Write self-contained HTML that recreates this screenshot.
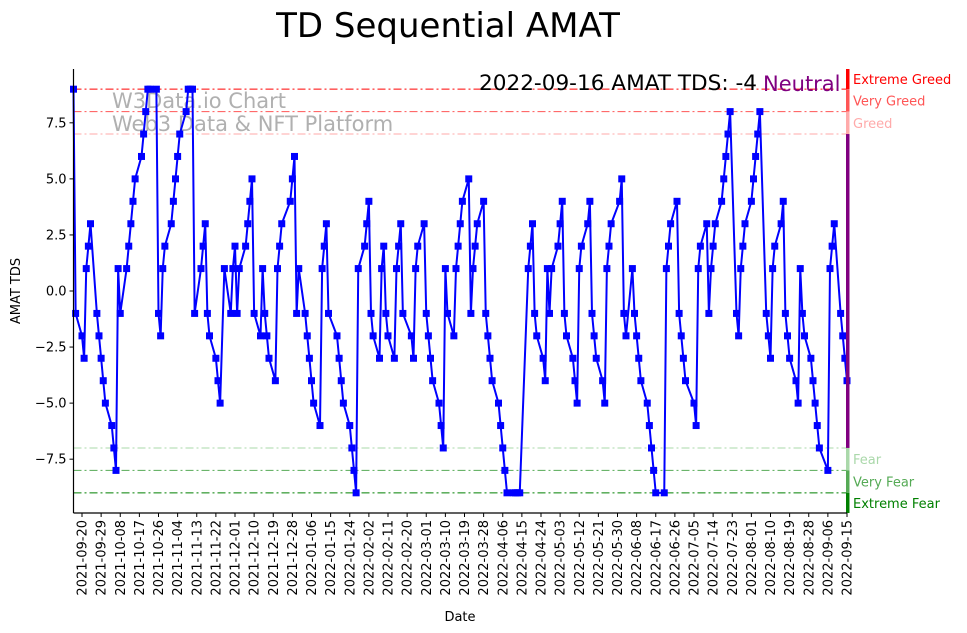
<!DOCTYPE html>
<html><head><meta charset="utf-8"><style>
body{margin:0;background:#fff;}
svg{display:block;font-family:"DejaVu Sans","Liberation Sans",sans-serif;}
</style></head><body>
<svg id="chart" width="967" height="633" viewBox="0 0 967 633" xmlns="http://www.w3.org/2000/svg">
<text x="448" y="37" font-size="34" text-anchor="middle" fill="#000">TD Sequential AMAT</text>
<g id="watermark" fill="#b0b0b0" font-size="21">
<text x="112" y="108">W3Data.io Chart</text>
<text x="112" y="131">Web3 Data &amp; NFT Platform</text>
</g>
<g id="grid"></g>
<g id="series"></g>
<g id="axes"></g>
<text x="757" y="90" font-size="21.5" text-anchor="end" fill="#000" textLength="278" lengthAdjust="spacingAndGlyphs">2022-09-16 AMAT TDS: -4</text>
<text x="763" y="91" font-size="21" fill="#800080">Neutral</text>
<text transform="translate(20,291) rotate(-90)" font-size="13" text-anchor="middle">AMAT TDS</text>
<text x="460" y="621" font-size="13" text-anchor="middle">Date</text>
</svg>
<script>
const startDate = "2021-09-16";
const endDate = "2022-09-15";
const holidays = ["2021-11-25","2021-12-24","2022-01-17","2022-02-21","2022-04-15","2022-05-30","2022-06-20","2022-07-04","2022-09-05"];
const tdsValues = [9,-1,-2,-3,1,2,3,-1,-2,-3,-4,-5,-6,-7,-8,1,-1,1,2,3,4,5,6,7,8,9,9,9,-1,-2,1,2,3,4,5,6,7,8,9,9,9,-1,1,2,3,-1,-2,-3,-4,-5,1,-1,1,2,-1,1,2,3,4,5,-1,-2,1,-1,-2,-3,-4,1,2,3,4,5,6,-1,1,-1,-2,-3,-4,-5,-6,1,2,3,-1,-2,-3,-4,-5,-6,-7,-8,-9,1,2,3,4,-1,-2,-3,1,2,-1,-2,-3,1,2,3,-1,-2,-3,1,2,3,-1,-2,-3,-4,-5,-6,-7,1,-1,-2,1,2,3,4,5,-1,1,2,3,4,-1,-2,-3,-4,-5,-6,-7,-8,-9,-9,-9,-9,-9,1,2,3,-1,-2,-3,-4,1,-1,1,2,3,4,-1,-2,-3,-4,-5,1,2,3,4,-1,-2,-3,-4,-5,1,2,3,4,5,-1,-2,1,-1,-2,-3,-4,-5,-6,-7,-8,-9,-9,1,2,3,4,-1,-2,-3,-4,-5,-6,1,2,3,-1,1,2,3,4,5,6,7,8,-1,-2,1,2,3,4,5,6,7,8,-1,-2,-3,1,2,3,4,-1,-2,-3,-4,-5,1,-1,-2,-3,-4,-5,-6,-7,-8,1,2,3,-1,-2,-3,-4];
const yTicks = [-7.5,-5,-2.5,0,2.5,5,7.5];
const yTickLabels = ["−7.5","−5.0","−2.5","0.0","2.5","5.0","7.5"];
const levelValues = [9,8,7,-7,-8,-9];
const levelNames = ["Extreme Greed","Very Greed","Greed","Fear","Very Fear","Extreme Fear"];
const levelColors = ["#ff0000","#ff5555","#ffaaaa","#aad8aa","#55aa55","#008000"];

const NS="http://www.w3.org/2000/svg";
const L=73.5,R=847,T=69,B=513,YMIN=-9.9,YMAX=9.9;
const DAY=86400000;
const t0=Date.parse(startDate+"T00:00:00Z"),t1=Date.parse(endDate+"T00:00:00Z");
function xScale(t){return L+(t-t0)/(t1-t0)*(R-L);}
function yScale(v){return B-(v-YMIN)/(YMAX-YMIN)*(B-T);}
function mk(tag,attrs,parent){const e=document.createElementNS(NS,tag);for(const k in attrs)e.setAttribute(k,attrs[k]);parent.appendChild(e);return e;}
function iso(t){return new Date(t).toISOString().slice(0,10);}
const dates=[];
for(let t=t0;dates.length<tdsValues.length && t<=t1+5*DAY;t+=DAY){
  const wd=new Date(t).getUTCDay();
  if(wd===0||wd===6)continue;
  if(holidays.includes(iso(t)))continue;
  dates.push(t);
}
const grid=document.getElementById('grid'),series=document.getElementById('series'),axes=document.getElementById('axes');
levelValues.forEach((v,i)=>{
  const ln=mk('line',{x1:L,x2:R,y1:yScale(v),y2:yScale(v),stroke:levelColors[i],'stroke-width':1,'stroke-dasharray':'8,3,2,3'},grid);
  
  
});
const zones=[[YMAX,9,"#ff0000"],[9,8,"#ff5555"],[8,7,"#ffaaaa"],[7,-7,"#800080"],[-7,-8,"#aad8aa"],[-8,-9,"#55aa55"],[-9,YMIN,"#008000"]];
zones.forEach((z,i)=>{
  const r=mk('rect',{x:R-1,y:yScale(z[0]),width:3.5,height:yScale(z[1])-yScale(z[0]),fill:z[2]},axes);
  
  
});
levelValues.forEach((v,i)=>{
  const yy=[(YMAX+9)/2,8.5,7.5,-7.5,-8.5,(-9+YMIN)/2][i];
  const tx=mk('text',{x:853,y:yScale(yy)+5,'font-size':13,fill:levelColors[i]},axes);
  tx.textContent=levelNames[i];
  
  
});
let d='';
tdsValues.forEach((v,i)=>{d+=(i?'L':'M')+xScale(dates[i]).toFixed(2)+','+yScale(v).toFixed(2);});
const path=mk('path',{d:d,fill:'none',stroke:'#0000ff','stroke-width':2,'stroke-linejoin':'round'},series);


tdsValues.forEach((v,i)=>{
  const m=mk('rect',{x:xScale(dates[i])-3.5,y:yScale(v)-3.5,width:7,height:7,fill:'#0000ff'},series);
  
  
});
const ls=mk('line',{x1:L,x2:L,y1:T,y2:B,stroke:'#000','stroke-width':1.2},axes);


const bs=mk('line',{x1:L,x2:R,y1:B,y2:B,stroke:'#000','stroke-width':1.2},axes);


yTicks.forEach((v,i)=>{
  const y=yScale(v);
  mk('line',{x1:L-4,x2:L,y1:y,y2:y,stroke:'#000'},axes);
  const tx=mk('text',{x:L-7,y:y+4.5,'font-size':13,'text-anchor':'end'},axes);
  tx.textContent=yTickLabels[i];
  
  
});
for(let t=Date.parse("2021-09-20T00:00:00Z");t<=t1;t+=9*DAY){
  const x=xScale(t);
  mk('line',{x1:x,x2:x,y1:B,y2:B+4,stroke:'#000'},axes);
  const tx=mk('text',{transform:'translate('+(x+4.5)+','+(B+7)+') rotate(-90)','font-size':13,'text-anchor':'end'},axes);
  tx.textContent=iso(t);
  
  
}
</script>
</body></html>
